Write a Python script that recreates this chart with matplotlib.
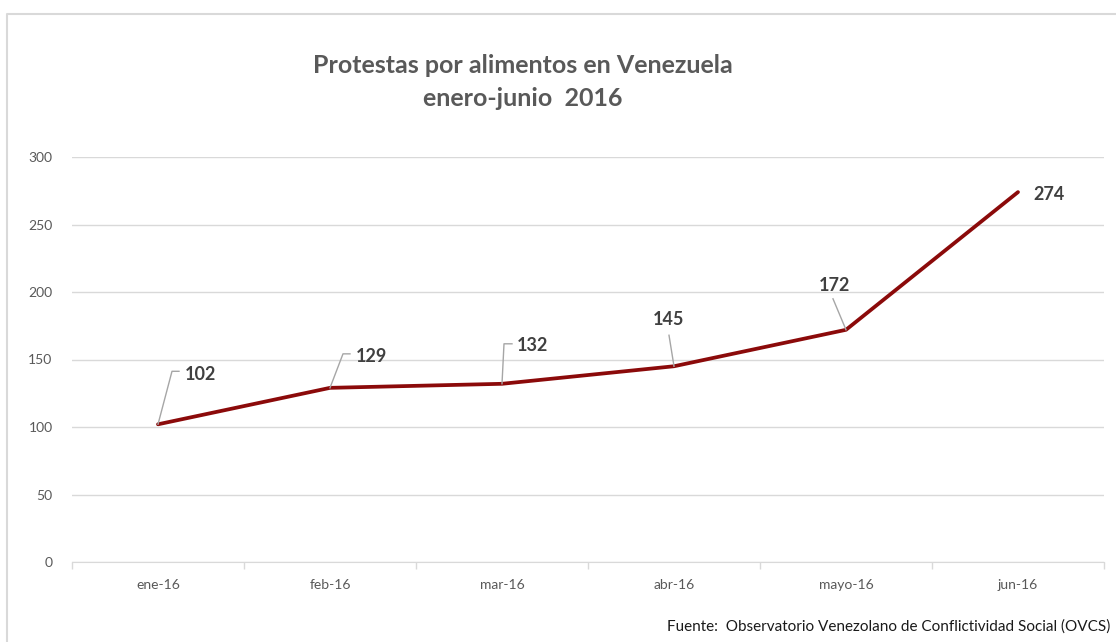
import matplotlib
matplotlib.use("Agg")
import matplotlib.pyplot as plt
from matplotlib.lines import Line2D

# ---------- data ---------- #
months = ["ene-16", "feb-16", "mar-16", "abr-16", "mayo-16", "jun-16"]
protests = [102, 129, 132, 145, 172, 274]
y_ticks = [0, 50, 100, 150, 200, 250, 300]

# label placement (pixel offsets from the point): leader path, text anchor
leaders = [
    [(14, 53), (21, 53)],
    [(13, 34), (20, 34)],
    [(2, 40), (10, 40)],
    [(-5, 31)],
    [(-13, 31)],
    [],
]
text_off = [(27, 50, "left"), (26, 31, "left"), (15, 38, "left"),
            (-5, 47, "center"), (-11, 44, "center"), (15, -2, "left")]

plt.rcParams["font.family"] = ["Lato", "DejaVu Sans"]
grey = "#595959"

fig = plt.figure(figsize=(11.16, 6.42), dpi=100)
ax = fig.add_axes([72 / 1116, 80 / 642, 1032 / 1116, 405 / 642])

x = list(range(len(months)))
ax.plot(x, protests, color="#8B0A0A", lw=2.7, solid_capstyle="round", zorder=3)

ax.set_xlim(-0.5, len(months) - 0.5)
ax.set_ylim(0, 300)
ax.set_yticks(y_ticks)
ax.set_yticklabels([str(v) for v in y_ticks], fontsize=10, color=grey)
ax.set_xticks(x)
ax.set_xticklabels(months, fontsize=10, color=grey)
ax.tick_params(axis="both", length=0)
ax.tick_params(axis="y", pad=14)
ax.tick_params(axis="x", pad=12)
ax.set_xticks([i - 0.5 for i in range(len(months) + 1)], minor=True)
ax.tick_params(axis="x", which="minor", length=5, color="#D9D9D9", width=1)
for s in ["top", "right", "left"]:
    ax.spines[s].set_visible(False)
ax.spines["bottom"].set_color("#D9D9D9")
ax.grid(axis="y", color="#D9D9D9", lw=1)
ax.set_axisbelow(True)

# data labels with leader lines (drawn in pixel space)
fig.canvas.draw()
for xi, yi, path, (dx, dy, ha) in zip(x, protests, leaders, text_off):
    px, py = ax.transData.transform((xi, yi))
    if path:
        xs = [px] + [px + p[0] for p in path]
        ys = [py] + [py + p[1] for p in path]
        fig.add_artist(Line2D(xs, ys, color="#A6A6A6", lw=1, transform=None, zorder=2))
    ax.annotate(str(yi), (xi, yi), xytext=(dx, dy), textcoords="offset pixels",
                ha=ha, va="center", fontsize=13, fontweight="bold", color="#404040")

fig.text(523 / 1116, 1 - 82 / 642, "Protestas por alimentos en Venezuela\nenero-junio  2016",
         ha="center", va="center", fontsize=18, fontweight="bold", color=grey,
         linespacing=1.55)
fig.text(1110 / 1116, 1 - 627 / 642,
         "Fuente:  Observatorio Venezolano de Conflictividad Social (OVCS)",
         ha="right", va="center", fontsize=11, color="#1A1A1A")

# chart frame (top and left edges visible)
fig.add_artist(Line2D([7 / 1116, 7 / 1116, 1], [0, 1 - 14 / 642, 1 - 14 / 642],
                      color="#D9D9D9", lw=1.5, transform=fig.transFigure))

fig.savefig("out.png", dpi=100)
